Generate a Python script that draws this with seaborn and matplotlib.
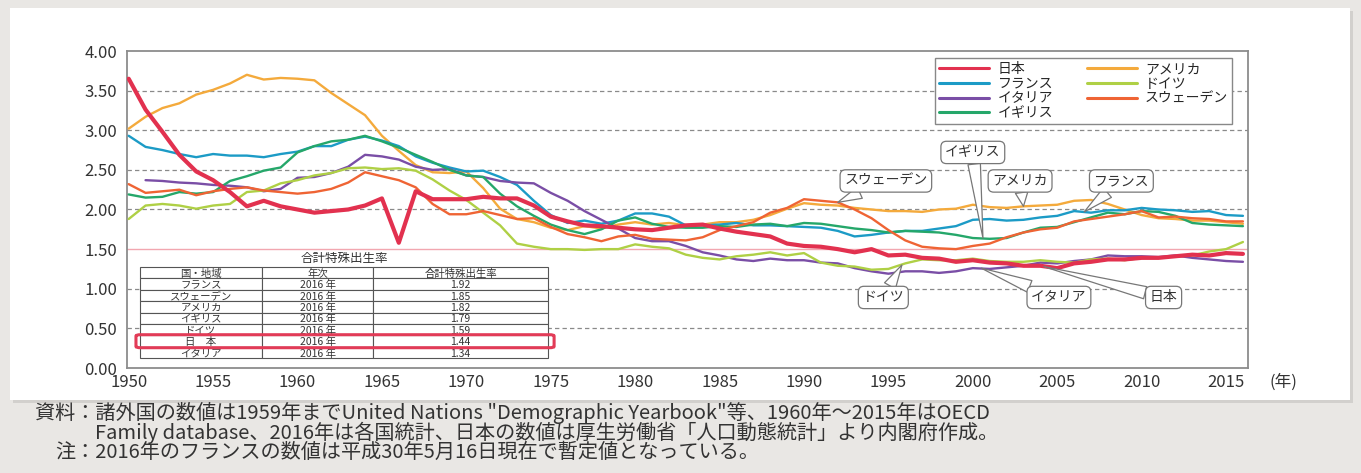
import numpy as np
import pandas as pd
import matplotlib
matplotlib.use('Agg')
import matplotlib.pyplot as plt
import matplotlib.transforms as mtrans
from matplotlib.patches import FancyBboxPatch, Rectangle
from matplotlib.lines import Line2D
import seaborn as sns

sns.set_theme(style='white')
plt.rcParams['font.family'] = ['Noto Sans CJK JP', 'DejaVu Sans']

# Total fertility rate by country, 1950-2016
years = list(range(1950, 2017))

japan = [3.65, 3.26, 2.98, 2.69, 2.48, 2.37, 2.22, 2.04, 2.11, 2.04,
         2.00, 1.96, 1.98, 2.00, 2.05, 2.14, 1.58, 2.23, 2.13, 2.13,
         2.13, 2.16, 2.14, 2.14, 2.05, 1.91, 1.85, 1.80, 1.79, 1.77,
         1.75, 1.74, 1.77, 1.80, 1.81, 1.76, 1.72, 1.69, 1.66, 1.57,
         1.54, 1.53, 1.50, 1.46, 1.50, 1.42, 1.43, 1.39, 1.38, 1.34,
         1.36, 1.33, 1.32, 1.29, 1.29, 1.26, 1.32, 1.34, 1.37, 1.37,
         1.39, 1.39, 1.41, 1.43, 1.42, 1.45, 1.44]

usa = [3.02, 3.17, 3.28, 3.34, 3.45, 3.51, 3.59, 3.70, 3.64, 3.66,
       3.65, 3.63, 3.47, 3.33, 3.19, 2.93, 2.74, 2.56, 2.47, 2.46,
       2.48, 2.27, 2.01, 1.88, 1.84, 1.77, 1.74, 1.79, 1.76, 1.81,
       1.84, 1.81, 1.83, 1.80, 1.81, 1.84, 1.84, 1.87, 1.93, 2.01,
       2.08, 2.06, 2.05, 2.02, 2.00, 1.98, 1.98, 1.97, 2.00, 2.01,
       2.06, 2.03, 2.02, 2.04, 2.05, 2.06, 2.11, 2.12, 2.07, 2.00,
       1.93, 1.89, 1.88, 1.86, 1.86, 1.84, 1.82]

france = [2.93, 2.79, 2.75, 2.70, 2.66, 2.70, 2.68, 2.68, 2.66, 2.70,
          2.73, 2.80, 2.80, 2.88, 2.92, 2.87, 2.80, 2.67, 2.59, 2.53,
          2.48, 2.49, 2.41, 2.31, 2.11, 1.93, 1.83, 1.86, 1.82, 1.86,
          1.95, 1.95, 1.91, 1.80, 1.80, 1.81, 1.83, 1.80, 1.80, 1.79,
          1.78, 1.77, 1.73, 1.66, 1.68, 1.71, 1.73, 1.73, 1.76, 1.79,
          1.87, 1.88, 1.86, 1.87, 1.90, 1.92, 1.98, 1.96, 1.99, 1.99,
          2.02, 2.00, 1.99, 1.97, 1.98, 1.93, 1.92]

italy = [np.nan, 2.37, 2.36, 2.34, 2.33, 2.31, 2.30, 2.28, 2.23, 2.26,
         2.40, 2.41, 2.46, 2.54, 2.69, 2.67, 2.63, 2.54, 2.50, 2.51,
         2.43, 2.41, 2.36, 2.34, 2.33, 2.21, 2.11, 1.98, 1.87, 1.76,
         1.64, 1.60, 1.60, 1.54, 1.46, 1.42, 1.37, 1.35, 1.38, 1.36,
         1.36, 1.33, 1.32, 1.26, 1.22, 1.19, 1.22, 1.22, 1.20, 1.22,
         1.26, 1.25, 1.27, 1.29, 1.33, 1.32, 1.35, 1.37, 1.42, 1.41,
         1.41, 1.40, 1.42, 1.39, 1.37, 1.35, 1.34]

uk = [2.19, 2.15, 2.16, 2.22, 2.20, 2.22, 2.36, 2.42, 2.49, 2.53,
      2.72, 2.80, 2.86, 2.88, 2.93, 2.86, 2.78, 2.69, 2.60, 2.50,
      2.43, 2.41, 2.20, 2.04, 1.92, 1.81, 1.74, 1.69, 1.75, 1.86,
      1.90, 1.82, 1.78, 1.77, 1.77, 1.79, 1.78, 1.81, 1.82, 1.79,
      1.83, 1.82, 1.79, 1.76, 1.74, 1.71, 1.73, 1.72, 1.71, 1.68,
      1.64, 1.63, 1.64, 1.71, 1.77, 1.78, 1.84, 1.90, 1.96, 1.94,
      1.98, 1.97, 1.92, 1.83, 1.81, 1.80, 1.79]

germany = [1.88, 2.05, 2.07, 2.05, 2.01, 2.05, 2.07, 2.22, 2.24, 2.33,
           2.37, 2.43, 2.46, 2.52, 2.53, 2.51, 2.52, 2.49, 2.38, 2.24,
           2.12, 1.96, 1.80, 1.57, 1.53, 1.50, 1.50, 1.49, 1.50, 1.50,
           1.56, 1.53, 1.51, 1.43, 1.39, 1.37, 1.41, 1.43, 1.46, 1.42,
           1.45, 1.33, 1.29, 1.28, 1.24, 1.25, 1.32, 1.37, 1.36, 1.36,
           1.38, 1.35, 1.34, 1.34, 1.36, 1.34, 1.33, 1.37, 1.38, 1.36,
           1.39, 1.39, 1.41, 1.42, 1.47, 1.50, 1.59]

sweden = [2.32, 2.21, 2.23, 2.25, 2.18, 2.23, 2.26, 2.28, 2.24, 2.22,
          2.20, 2.22, 2.26, 2.34, 2.47, 2.42, 2.37, 2.28, 2.07, 1.94,
          1.94, 1.98, 1.93, 1.88, 1.89, 1.78, 1.69, 1.65, 1.60, 1.66,
          1.68, 1.63, 1.62, 1.61, 1.65, 1.74, 1.79, 1.84, 1.96, 2.02,
          2.13, 2.11, 2.09, 2.00, 1.89, 1.74, 1.61, 1.53, 1.51, 1.50,
          1.54, 1.57, 1.65, 1.71, 1.75, 1.77, 1.85, 1.88, 1.91, 1.94,
          1.98, 1.90, 1.91, 1.89, 1.88, 1.85, 1.85]

# 2016 summary table
table_header = ['国・地域', '年次', '合計特殊出生率']
table_countries = ['フランス', 'スウェーデン', 'アメリカ', 'イギリス', 'ドイツ', '日　本', 'イタリア']
table_years = ['2016 年'] * 7
table_values = ['1.92', '1.85', '1.82', '1.79', '1.59', '1.44', '1.34']

series = {'アメリカ': usa, 'フランス': france, 'イタリア': italy, 'イギリス': uk,
          'ドイツ': germany, 'スウェーデン': sweden, '日本': japan}
colors = {'日本': '#e2314f', 'アメリカ': '#f4aa3c', 'フランス': '#1c9bc6',
          'ドイツ': '#afd045', 'イタリア': '#7a4ea6', 'スウェーデン': '#ef6434',
          'イギリス': '#25a76a'}
legend_order = ['日本', 'フランス', 'イタリア', 'イギリス', 'アメリカ', 'ドイツ', 'スウェーデン']

df = pd.DataFrame({'year': years, **series}).melt(id_vars='year', var_name='country', value_name='tfr')
df = df.dropna()

fig = plt.figure(figsize=(13.61, 4.73), dpi=100, facecolor='#e9e7e4')
W, H = 1361, 473
# white panel with a soft shadow (kept below the axes)
fig.patches.append(Rectangle((13 / W, 70 / H), 1340 / W, 392 / H, transform=fig.transFigure,
                             fc='#d2d0cd', ec='none', zorder=-2))
fig.patches.append(Rectangle((10 / W, 73 / H), 1340 / W, 392 / H, transform=fig.transFigure,
                             fc='white', ec='none', zorder=-1))

ax = fig.add_axes([127 / W, 105 / H, 1121 / W, 317 / H])
ax.set_facecolor('white')
ax.set_zorder(1)

for lvl in [0.5, 1.0, 2.0, 2.5, 3.0, 3.5]:
    ax.axhline(lvl, color='#8a8a8a', lw=0.9, ls=(0, (3.5, 2.5)), zorder=1)
ax.axhline(1.5, color='#f2a7b0', lw=1.0, zorder=1)

for country in series:
    sub = df[df['country'] == country]
    sns.lineplot(data=sub, x='year', y='tfr', color=colors[country],
                 lw=3.0 if country == '日本' else 1.7, ax=ax, legend=False,
                 zorder=4 if country == '日本' else 3)

ax.set_xlim(1949.9, 2016.3)
ax.set_ylim(0, 4)
ax.set_xticks(range(1950, 2016, 5))
ax.set_yticks(np.arange(0, 4.01, 0.5))
ax.set_yticklabels([f'{v:.2f}' for v in np.arange(0, 4.01, 0.5)])
ax.set_xlabel('')
ax.set_ylabel('')
ax.tick_params(axis='x', direction='in', length=4, color='#888', labelsize=12, labelcolor='#333', pad=4)
ax.tick_params(axis='y', direction='out', length=4, color='#888', labelsize=12, labelcolor='#333', pad=3)
for sp in ax.spines.values():
    sp.set_color('#8c8c8c')
    sp.set_linewidth(1.3)
    sp.set_visible(True)

ax.text(2018.4, -0.018, '(年)', transform=mtrans.blended_transform_factory(ax.transData, ax.transAxes),
        ha='center', va='top', fontsize=12, color='#333')

# legend
handles = [Line2D([0], [0], color=colors[c], lw=2.2) for c in legend_order]
leg = ax.legend(handles, legend_order, ncol=2, loc='upper right', bbox_to_anchor=(0.986, 0.978),
                fontsize=10, frameon=True, fancybox=False, edgecolor='#888', framealpha=1,
                handlelength=3.6, handletextpad=0.6, labelspacing=0.05, columnspacing=2.4,
                borderpad=0.3, borderaxespad=0)
leg.get_frame().set_linewidth(1.0)
leg.set_zorder(6)

# callouts
callouts = [('スウェーデン', (1992.0, 2.09), (1994.85, 2.36)),
            ('イギリス', (2000.6, 1.64), (2000.0, 2.72)),
            ('アメリカ', (2003.0, 2.04), (2002.8, 2.36)),
            ('フランス', (2006.6, 1.97), (2008.8, 2.36)),
            ('ドイツ', (1995.8, 1.30), (1994.7, 0.89)),
            ('イタリア', (2000.5, 1.26), (2005.1, 0.89)),
            ('日本', (2004.2, 1.28), (2011.3, 0.89))]
for label, tip, box in callouts:
    ax.annotate(label, xy=tip, xytext=box, ha='center', va='center', fontsize=10, color='#333',
                bbox=dict(boxstyle='round,pad=0.3,rounding_size=0.4', fc='white', ec='#777', lw=0.9),
                arrowprops=dict(arrowstyle='wedge,tail_width=0.9,shrink_factor=0.5', fc='white',
                                ec='#777', lw=0.9, shrinkA=0, shrinkB=0),
                zorder=6)

# 2016 table
rows = [[c, y, v] for c, y, v in zip(table_countries, table_years, table_values)]
tbl = ax.table(cellText=rows, colLabels=table_header, cellLoc='center',
               colWidths=[122, 111, 175], bbox=[0.0116, 0.0315, 0.364, 0.287])
tbl.auto_set_font_size(False)
tbl.set_fontsize(7.5)
tbl.set_zorder(5)
for cell in tbl.get_celld().values():
    cell.set_edgecolor('#555')
    cell.set_linewidth(0.8)
    cell.set_facecolor('white')
    cell.get_text().set_color('#333')
    # nudge the CJK glyphs down a pixel so they sit centred in the short rows
    cell.get_text().set_transform(mtrans.Affine2D().translate(0, -1.2))
ax.text(0.194, 0.347, '合計特殊出生率', transform=ax.transAxes, ha='center', va='center',
        fontsize=9, color='#333', zorder=5)
ax.add_patch(FancyBboxPatch((0.008, 0.064), 0.373, 0.041, boxstyle='round,pad=0,rounding_size=0.004',
                            transform=ax.transAxes, fill=False, ec='#e23b57', lw=2.2, zorder=6))

# footnotes
fig.text(35 / W, 1 - 413 / H,
         '資料：諸外国の数値は1959年までUnited Nations "Demographic Yearbook"等、1960年～2015年はOECD',
         ha='left', va='center', fontsize=14.5, color='#333')
fig.text(95 / W, 1 - 433 / H,
         'Family database、2016年は各国統計、日本の数値は厚生労働省「人口動態統計」より内閣府作成。',
         ha='left', va='center', fontsize=14.5, color='#333')
fig.text(55 / W, 1 - 452 / H,
         '注：2016年のフランスの数値は平成30年5月16日現在で暫定値となっている。',
         ha='left', va='center', fontsize=14.5, color='#333')

fig.savefig('out.png', dpi=100, facecolor=fig.get_facecolor())
